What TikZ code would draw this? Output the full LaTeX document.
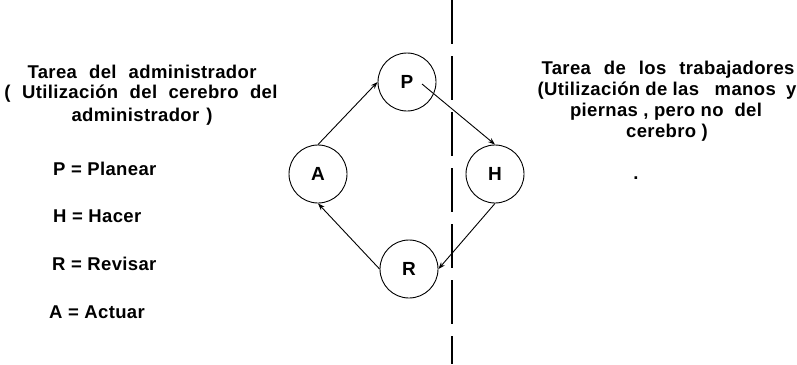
\documentclass[tikz,border=0pt]{standalone}
\usepackage{fontspec}
\setmainfont{Liberation Sans}
\newfontfamily\scanfont{Liberation Sans}[LetterSpace=2]
\usetikzlibrary{arrows.meta}
\newcommand{\lineat}[2]{\makebox[#1pt][s]{#2}}
\begin{document}
\begin{tikzpicture}[x=1pt,y=-1pt,
  txt/.style={font=\fontsize{18.5}{20}\scanfont\bfseries, inner sep=0pt},
  lbl/.style={font=\fontsize{18.5}{20}\scanfont\bfseries, anchor=west, inner sep=0pt},
  stage/.style={circle, draw, line width=0.9pt, minimum size=58pt, inner sep=0pt, font=\fontsize{19}{19}\selectfont\bfseries},
  flow/.style={line width=0.9pt, -{Stealth[length=7pt,width=5pt]}},
  divider/.style={line width=1.1pt, dash pattern=on 44pt off 12pt}]
\useasboundingbox (0,0) rectangle (797,364);
\fill[white] (0,0) rectangle (797,364);
% left text
\node[txt] (lt1) at (142,72) {\lineat{229}{Tarea del administrador}};
\node[txt] (lt2) at (141,94) {\lineat{273}{( Utilización del cerebro del}};
\node[txt] (lt3) at (142,117) {\lineat{141}{administrador )}};
\node[lbl] (lp) at (53,169) {P = Planear};
\node[lbl] (lh) at (53,216) {H = Hacer};
\node[lbl] (lr) at (52,264) {R = Revisar};
\node[lbl] (la) at (49,312) {A = Actuar};
% right text
\node[txt] (rt1) at (668,70) {\lineat{253}{Tarea de los trabajadores}};
\node[txt] (rt2) at (667,91) {\lineat{259}{(Utilización de las\ \ \ manos\ \ y}};
\node[txt] (rt3) at (666,112) {\lineat{192}{piernas , pero no\ \ del}};
\node[txt] (rt4) at (667,133) {cerebro )};
\node[txt] (dot) at (636,178) {.};
% divider
\coordinate (dtop) at (452,0);
\coordinate (dbot) at (452,364);
\draw[divider] (dtop) -- (dbot);
% circles
\node[stage] (P) at (407,82) {P};
\node[stage] (A) at (318,174) {A};
\node[stage] (H) at (495,174) {H};
\node[stage] (R) at (409,269) {R};
\coordinate (pstart) at (422,84);
\draw[flow] (A.north) -- (P.west);
\draw[flow] (pstart) -- (H.north);
\draw[flow] (H.south) -- (R.east);
\draw[flow] (R.west) -- (A.south);
\end{tikzpicture}
\end{document}
